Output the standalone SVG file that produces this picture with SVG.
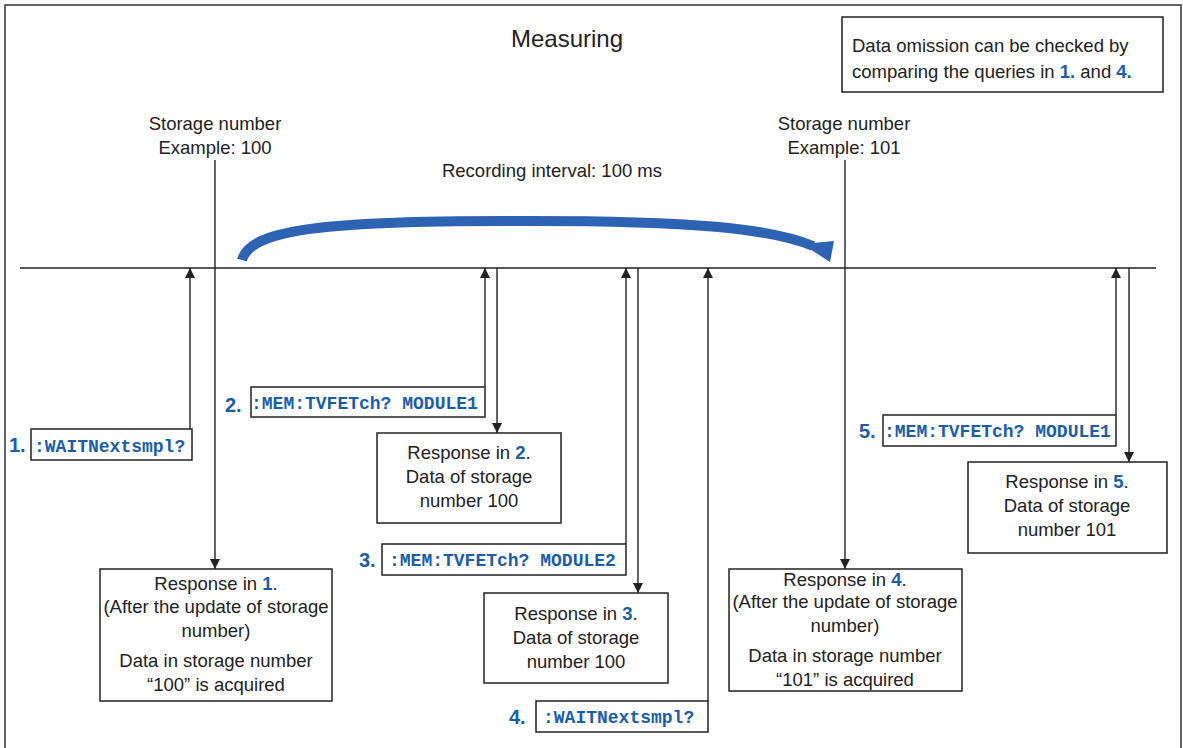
<svg xmlns="http://www.w3.org/2000/svg" width="1183" height="748" viewBox="0 0 1183 748">
<style>
.t{font-family:"Liberation Sans",Arial,sans-serif;font-size:18.5px;fill:#222}
.c{text-anchor:middle}
.b{fill:#1b5ea8;font-weight:bold}
.m{font-family:"Liberation Mono","Courier New",monospace;font-size:18px;font-weight:bold;fill:#1b5ea8}
.n{font-family:"Liberation Sans",Arial,sans-serif;font-size:20px;font-weight:bold;fill:#1b5ea8}
.box{fill:#fff;stroke:#222;stroke-width:1.5}
.ln{stroke:#222;stroke-width:1.4;fill:none}
</style>
<defs>
<marker id="ah" viewBox="0 0 10 10" refX="10" refY="5" markerWidth="10" markerHeight="10" markerUnits="userSpaceOnUse" orient="auto">
<path d="M0,0 L10,5 L0,10 z" fill="#222"/>
</marker>
</defs>
<rect x="5" y="5" width="1176" height="760" fill="#fff" stroke="#333" stroke-width="1.5"/>
<g id="title"><text class="t c" x="567" y="47" style="font-size:24px">Measuring</text></g>
<g id="note">
<rect class="box" x="842" y="17" width="321" height="75"/>
<text class="t" x="852" y="52">Data omission can be checked by</text>
<text class="t" x="852" y="78">comparing the queries in <tspan class="b">1.</tspan> and <tspan class="b">4.</tspan></text>
</g>
<g id="storage100">
<text class="t c" x="215" y="130">Storage number</text>
<text class="t c" x="215" y="154">Example: 100</text>
</g>
<g id="storage101">
<text class="t c" x="844" y="130">Storage number</text>
<text class="t c" x="844" y="154">Example: 101</text>
</g>
<g id="interval">
<text class="t c" x="552" y="177">Recording interval: 100 ms</text>
<path d="M242,260 C250,230 320,220 530,221 C690,221 770,228 813,246" fill="none" stroke="#2e62b2" stroke-width="10"/>
<polygon points="802,244 834,241 830,262" fill="#2e62b2"/>
</g>
<g id="connectors">
<line class="ln" x1="20" y1="268" x2="1156" y2="268"/>
<line class="ln" x1="215" y1="160" x2="215" y2="569" marker-end="url(#ah)"/>
<line class="ln" x1="845" y1="160" x2="845" y2="569" marker-end="url(#ah)"/>
<line class="ln" x1="190" y1="429" x2="190" y2="268" marker-end="url(#ah)"/>
<line class="ln" x1="485" y1="387" x2="485" y2="268" marker-end="url(#ah)"/>
<line class="ln" x1="497" y1="268" x2="497" y2="433" marker-end="url(#ah)"/>
<line class="ln" x1="626" y1="544" x2="626" y2="268" marker-end="url(#ah)"/>
<line class="ln" x1="638" y1="268" x2="638" y2="593" marker-end="url(#ah)"/>
<line class="ln" x1="708" y1="701" x2="708" y2="268" marker-end="url(#ah)"/>
<line class="ln" x1="1116" y1="415" x2="1116" y2="268" marker-end="url(#ah)"/>
<line class="ln" x1="1129" y1="268" x2="1129" y2="462" marker-end="url(#ah)"/>
</g>
<g id="cmd1">
<text class="n" x="9" y="452">1.</text>
<rect class="box" x="31" y="429" width="161" height="31"/>
<text class="m" x="34" y="452">:WAITNextsmpl?</text>
</g>
<g id="cmd2">
<text class="n" x="225" y="412">2.</text>
<rect class="box" x="251" y="387" width="234" height="30"/>
<text class="m" x="251" y="409">:MEM:TVFETch? MODULE1</text>
</g>
<g id="cmd3">
<text class="n" x="359" y="567">3.</text>
<rect class="box" x="382" y="544" width="244" height="31"/>
<text class="m" x="389" y="566">:MEM:TVFETch? MODULE2</text>
</g>
<g id="cmd4">
<text class="n" x="509" y="724">4.</text>
<rect class="box" x="536" y="701" width="172" height="31"/>
<text class="m" x="543" y="723">:WAITNextsmpl?</text>
</g>
<g id="cmd5">
<text class="n" x="859" y="438">5.</text>
<rect class="box" x="883" y="415" width="233" height="31"/>
<text class="m" x="884" y="437">:MEM:TVFETch? MODULE1</text>
</g>
<g id="resp1">
<rect class="box" x="100" y="569" width="232" height="132"/>
<text class="t c" x="216" y="590">Response in <tspan class="b">1</tspan>.</text>
<text class="t c" x="216" y="613">(After the update of storage</text>
<text class="t c" x="216" y="637">number)</text>
<text class="t c" x="216" y="667">Data in storage number</text>
<text class="t c" x="216" y="691">“100” is acquired</text>
</g>
<g id="resp2">
<rect class="box" x="377" y="433" width="184" height="90"/>
<text class="t c" x="469" y="459">Response in <tspan class="b">2</tspan>.</text>
<text class="t c" x="469" y="483">Data of storage</text>
<text class="t c" x="469" y="507">number 100</text>
</g>
<g id="resp3">
<rect class="box" x="484" y="593" width="184" height="90"/>
<text class="t c" x="576" y="620">Response in <tspan class="b">3</tspan>.</text>
<text class="t c" x="576" y="644">Data of storage</text>
<text class="t c" x="576" y="668">number 100</text>
</g>
<g id="resp4">
<rect class="box" x="729" y="569" width="233" height="122"/>
<text class="t c" x="845" y="586">Response in <tspan class="b">4</tspan>.</text>
<text class="t c" x="845" y="608">(After the update of storage</text>
<text class="t c" x="845" y="632">number)</text>
<text class="t c" x="845" y="662">Data in storage number</text>
<text class="t c" x="845" y="686">“101” is acquired</text>
</g>
<g id="resp5">
<rect class="box" x="968" y="462" width="199" height="91"/>
<text class="t c" x="1067" y="488">Response in <tspan class="b">5</tspan>.</text>
<text class="t c" x="1067" y="512">Data of storage</text>
<text class="t c" x="1067" y="536">number 101</text>
</g>
</svg>
